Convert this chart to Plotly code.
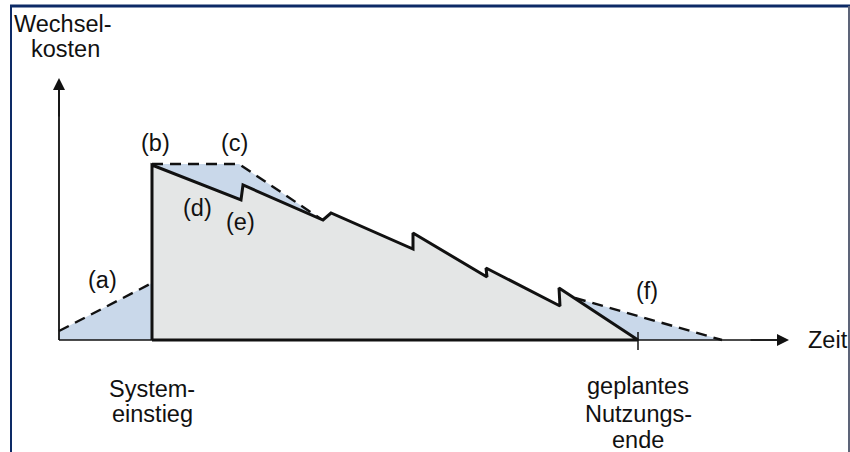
import plotly.graph_objects as go

# ---- data (schematic units: Zeit on x, Wechselkosten on y) ----
entry_t = 93          # Systemeinstieg
end_t = 579           # geplantes Nutzungsende
axis_x_end = 730      # tip of time axis
axis_y_end = 262      # tip of cost axis

# solid sawtooth curve of switching costs, (b) -> (d)/(e) -> end
saw_t = [93, 93, 182, 184, 264, 272, 354, 354, 428, 427, 501, 500, 579]
saw_c = [0, 175, 140, 155, 120, 127, 91, 107, 63, 72, 34, 52, 0]

# dashed variants
a_t = [0, 93]
a_c = [9, 57]
c_t = [93, 180, 262]
c_c = [176, 176, 121]
f_t = [516, 663]
f_c = [42, 0]

# labels
lab_text = ["(a)", "(b)", "(c)", "(d)", "(e)", "(f)"]
lab_t = [43, 96, 175, 138, 181, 588]
lab_c = [60, 197, 197, 132, 118, 49]

GRAY = "#e4e6e6"
BLUE = "#c9d8ea"
INK = "#111111"
FONT = "Liberation Sans, Arial, sans-serif"

fig = go.Figure()

# blue areas
fig.add_trace(go.Scatter(x=a_t + [a_t[-1], a_t[0]], y=a_c + [0, 0], fill="toself",
                         fillcolor=BLUE, line=dict(width=0), mode="lines", hoverinfo="skip"))
fig.add_trace(go.Scatter(x=c_t + [saw_t[3], saw_t[2], saw_t[1]],
                         y=c_c + [saw_c[3], saw_c[2], saw_c[1]], fill="toself",
                         fillcolor=BLUE, line=dict(width=0), mode="lines", hoverinfo="skip"))
fig.add_trace(go.Scatter(x=f_t + [end_t], y=f_c + [0], fill="toself",
                         fillcolor=BLUE, line=dict(width=0), mode="lines", hoverinfo="skip"))

# axes lines
fig.add_trace(go.Scatter(x=[0, axis_x_end - 8], y=[0, 0], mode="lines",
                         line=dict(color=INK, width=1.6), hoverinfo="skip"))
fig.add_trace(go.Scatter(x=[0, 0], y=[0, axis_y_end - 8], mode="lines",
                         line=dict(color=INK, width=1.8), hoverinfo="skip"))
# end tick
fig.add_trace(go.Scatter(x=[end_t, end_t], y=[-10, 8], mode="lines",
                         line=dict(color=INK, width=1.5), hoverinfo="skip"))

# main gray area with thick outline
fig.add_trace(go.Scatter(x=saw_t + [saw_t[0]], y=saw_c + [saw_c[0]], fill="toself",
                         fillcolor=GRAY, mode="lines",
                         line=dict(color=INK, width=3), hoverinfo="skip"))

# dashed lines
for tt, cc in [(a_t, a_c), (c_t, c_c), (f_t, f_c)]:
    fig.add_trace(go.Scatter(x=tt, y=cc, mode="lines",
                             line=dict(color=INK, width=2.4, dash="11px,7px"),
                             hoverinfo="skip"))

ann = []
# arrowheads
ann.append(dict(x=axis_x_end, y=0, ax=axis_x_end - 40, ay=0, xref="x", yref="y",
                axref="x", ayref="y", showarrow=True, arrowhead=2, arrowsize=1.6,
                arrowwidth=1.5, arrowcolor=INK, text="", standoff=0))
ann.append(dict(x=0, y=axis_y_end, ax=0, ay=axis_y_end - 40, xref="x", yref="y",
                axref="x", ayref="y", showarrow=True, arrowhead=2, arrowsize=1.6,
                arrowwidth=1.5, arrowcolor=INK, text="", standoff=0))

def txt(s, x, y, xanchor="center"):
    ann.append(dict(x=x, y=y, text=s, showarrow=False, xref="x", yref="y",
                    xanchor=xanchor, yanchor="middle",
                    font=dict(family=FONT, size=23.5, color=INK)))

for s, x, y in zip(lab_text, lab_t, lab_c):
    txt(s, x, y)

txt("Wechsel-", 4, 316)
txt("kosten", 6, 291)
txt("Zeit", 747, 0, xanchor="left")
txt("System-", entry_t, -49)
txt("einstieg", entry_t, -74)
txt("geplantes", end_t, -46)
txt("Nutzungs-", end_t, -74)
txt("ende", end_t, -100)

shapes = [
    dict(type="line", xref="paper", yref="paper", x0=11 / 850, x1=11 / 850, y0=0, y1=1 - 6 / 452,
         line=dict(color="#0d2a66", width=2)),
    dict(type="line", xref="paper", yref="paper", x0=10 / 850, x1=1, y0=1 - 6 / 452, y1=1 - 6 / 452,
         line=dict(color="#0d2a66", width=3)),
    dict(type="line", xref="paper", yref="paper", x0=849 / 850, x1=849 / 850, y0=0, y1=1 - 6 / 452,
         line=dict(color="#5d6478", width=2)),
]

fig.update_layout(
    width=850, height=452, margin=dict(l=0, r=0, t=0, b=0),
    paper_bgcolor="white", plot_bgcolor="white", showlegend=False,
    xaxis=dict(range=[-59, 791], visible=False, fixedrange=True),
    yaxis=dict(range=[-112, 340], visible=False, fixedrange=True),
    annotations=ann, shapes=shapes,
)

fig.write_html("out.html", config={"displayModeBar": False},
               post_script="document.body.style.margin='0';document.body.style.overflow='hidden';")
